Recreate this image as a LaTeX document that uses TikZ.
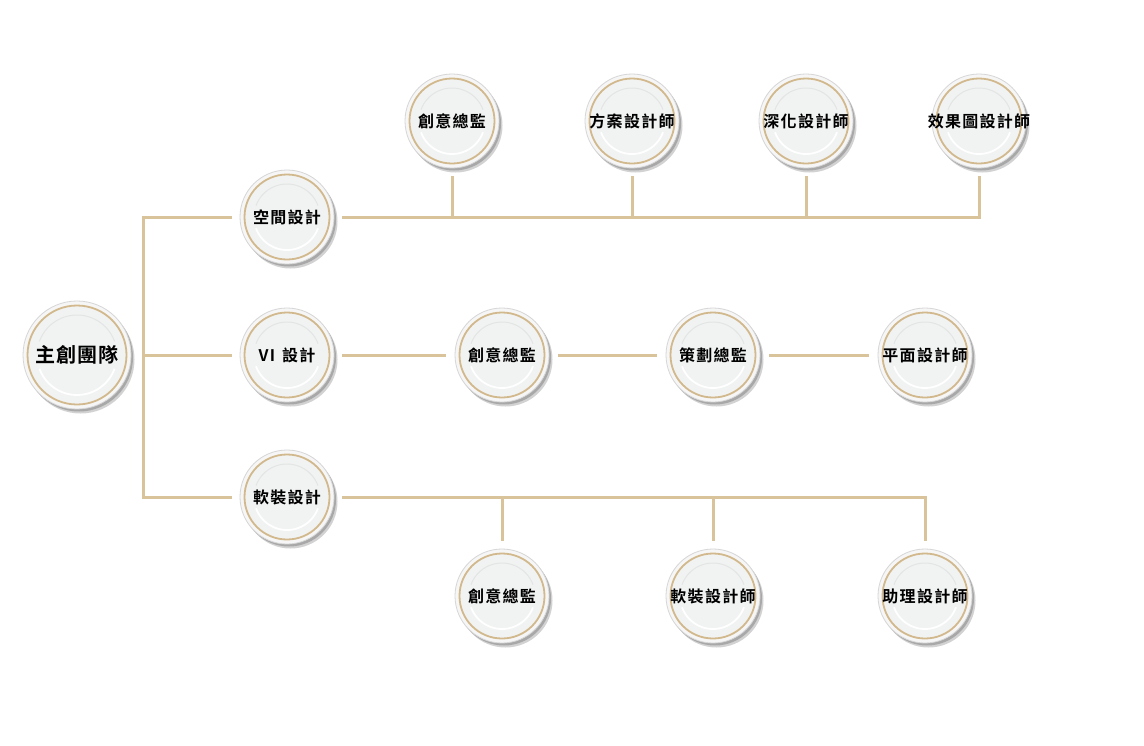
\documentclass[tikz,border=0pt]{standalone}
\usepackage{fontspec}
\setmainfont{Noto Sans CJK TC}
\newfontfamily\plt[LetterSpace=8]{Noto Sans CJK TC Bold}
\newfontfamily\pltm[LetterSpace=5]{Noto Sans CJK TC Bold}
\definecolor{linec}{HTML}{D8C39B}
\definecolor{goldc}{HTML}{D2B98D}
\definecolor{rimc}{HTML}{F6F6F6}
\definecolor{facec}{HTML}{F1F2F2}
\definecolor{edgec}{HTML}{D6D6D6}
\definecolor{shc}{HTML}{A8A8A8}
\definecolor{shcb}{HTML}{D2D2D2}
\definecolor{hlgc}{HTML}{E3E4E4}
\tikzset{
  conn/.style={draw=linec, line width=3pt},
  platebase/.style={circle, fill=rimc, draw=edgec, line width=0.8pt, inner sep=0pt},
  goldring/.style={draw=goldc, line width=1.8pt, fill=facec},
  hlw/.style={draw=white, line width=1.8pt},
  hlg/.style={draw=hlgc, line width=1pt},
  txt/.style={font=\plt\fontsize{16pt}{16pt}\selectfont, text=black, inner sep=0pt},
  txtmain/.style={font=\pltm\fontsize{20pt}{20pt}\selectfont, text=black, inner sep=0pt},
}
% name, x, y, r, text, text style
\newcommand\plate[6]{%
  \fill[shcb] (#2+3.5,#3+4.5) circle (#4);
  \fill[shc] (#2+2,#3+2.5) circle (#4);
  \node[platebase, minimum size=#4*2pt] (#1) at (#2,#3) {};
  \path[goldring] (#1.center) circle (#4-4.5);
  \draw[hlg] (#1.center) ++(160:{#4*1pt-14pt}) arc[start angle=160, end angle=20, radius={#4*1pt-14pt}];
  \draw[hlw] (#1.center) ++(-20:{#4*1pt-14pt}) arc[start angle=-20, end angle=-160, radius={#4*1pt-14pt}];
  \node[#6] (#1t) at (#1.center) {#5};
}
\begin{document}
\begin{tikzpicture}[x=1pt,y=-1pt]
\useasboundingbox[fill=white] (0,0) rectangle (1144,745);

% plates
\plate{main}{77}{355}{54}{主創團隊}{txtmain}
\plate{sp}{287}{217}{47}{空間設計}{txt}
\plate{vi}{287}{355}{47}{VI\hspace{7pt}設計}{txt}
\plate{rz}{287}{497}{47}{軟裝設計}{txt}
\plate{t1}{452}{121}{47}{創意總監}{txt}
\plate{t2}{632}{121}{47}{方案設計師}{txt}
\plate{t3}{806}{121}{47}{深化設計師}{txt}
\plate{t4}{979}{121}{47}{效果圖設計師}{txt}
\plate{m2}{502}{355}{47}{創意總監}{txt}
\plate{m3}{713}{355}{47}{策劃總監}{txt}
\plate{m4}{925}{355}{47}{平面設計師}{txt}
\plate{b1}{502}{596}{47}{創意總監}{txt}
\plate{b2}{713}{596}{47}{軟裝設計師}{txt}
\plate{b3}{925}{596}{47}{助理設計師}{txt}

% connectors
\draw[conn] ([xshift=-8pt]sp.west) -- ++(-88pt,0) |- ([xshift=-8pt]rz.west);
\draw[conn] ([xshift=-8pt]vi.west) -- ++(-88pt,0);
\draw[conn] ([xshift=8pt]sp.east) -| ([yshift=-8pt]t4.south);
\draw[conn] ([yshift=-8pt]t1.south) -- (t1.south |- sp.east);
\draw[conn] ([yshift=-8pt]t2.south) -- (t2.south |- sp.east);
\draw[conn] ([yshift=-8pt]t3.south) -- (t3.south |- sp.east);
\draw[conn, shorten <=8pt, shorten >=9pt] (vi) -- (m2);
\draw[conn, shorten <=9pt, shorten >=9pt] (m2) -- (m3);
\draw[conn, shorten <=9pt, shorten >=9pt] (m3) -- (m4);
\draw[conn] ([xshift=8pt]rz.east) -| ([yshift=8pt]b3.north);
\draw[conn] ([yshift=8pt]b1.north) -- (b1.north |- rz.east);
\draw[conn] ([yshift=8pt]b2.north) -- (b2.north |- rz.east);
\end{tikzpicture}
\end{document}
